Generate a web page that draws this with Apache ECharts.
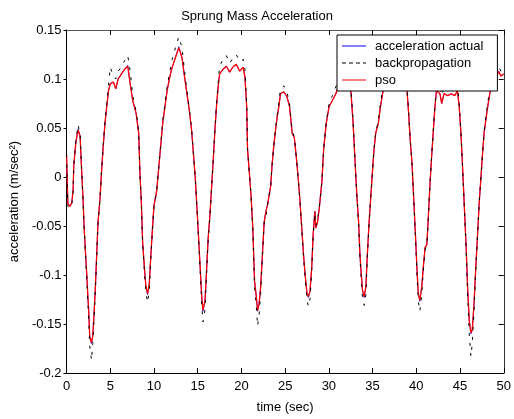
<!DOCTYPE html>
<html>
<head>
<meta charset="utf-8">
<script src="https://cdn.jsdelivr.net/npm/echarts@6/dist/echarts.min.js"></script>
<style>
  html, body { margin: 0; padding: 0; background: #fff; }
  #chart { width: 514px; height: 419px; }
</style>
</head>
<body>
<div id="chart"></div>
<script>
// sample times (sec)
var time = [0, 0.15, 0.4, 0.6, 0.75, 0.83, 1.06, 1.32, 1.55, 1.7, 1.9, 2.0, 2.18, 2.33, 2.44, 2.55, 2.65, 2.85, 3.0, 3.15,
  3.3, 3.45, 3.6, 3.83, 4.0, 4.2, 4.4, 4.6, 4.8, 5.0, 5.35, 5.63, 5.9, 6.27, 6.65, 7.0, 7.28, 7.57, 7.96, 8.25,
  8.4, 8.55, 8.7, 8.9, 9.08, 9.27, 9.46, 9.65, 9.83, 10.0, 10.3, 10.6, 10.8, 11.0, 11.26, 11.5, 11.8, 12.08, 12.46, 12.84,
  13.2, 13.5, 13.77, 14.04, 14.3, 14.5, 14.7, 14.9, 15.1, 15.28, 15.46, 15.6, 15.84, 16.03, 16.2, 16.4, 16.6, 16.8, 16.97, 17.15,
  17.34, 17.5, 17.9, 18.27, 18.65, 19.0, 19.4, 19.8, 20.2, 20.4, 20.6, 20.7, 20.9, 21.1, 21.3, 21.4, 21.5, 21.7, 21.85, 22.03,
  22.2, 22.4, 22.6, 22.8, 22.97, 23.16, 23.35, 23.5, 23.7, 23.9, 24.1, 24.28, 24.47, 24.66, 24.85, 25.2, 25.5, 25.8, 26.05, 26.27,
  26.5, 26.7, 26.9, 27.1, 27.28, 27.5, 27.66, 27.85, 28.04, 28.2, 28.4, 28.5, 28.7, 28.9, 29.2, 29.4, 29.7, 30.03, 30.4, 30.8,
  31.05, 31.5, 32.0, 32.5, 32.77, 33.0, 33.2, 33.4, 33.55, 33.7, 33.85, 34.04, 34.23, 34.4, 34.6, 34.8, 34.98, 35.16, 35.36, 35.66,
  35.9, 36.2, 36.8, 37.5, 38.3, 38.9, 39.1, 39.3, 39.5, 39.7, 39.9, 40.1, 40.23, 40.4, 40.62, 40.8, 41.0, 41.2, 41.37, 41.55,
  41.75, 41.93, 42.1, 42.3, 42.7, 42.9, 43.17, 43.6, 44.0, 44.4, 44.7, 44.9, 45.1, 45.3, 45.5, 45.7, 45.86, 46.05, 46.24, 46.4,
  46.6, 46.8, 47.0, 47.2, 47.4, 47.55, 47.75, 47.9, 48.1, 48.4, 48.65, 48.85, 49.15, 49.4, 49.66, 50];

// pso output (red)
var pso = [0.023, -0.027, -0.03, -0.026, -0.014, 0.012, 0.035, 0.048, 0.042, 0.012, -0.025, -0.049, -0.079, -0.102, -0.122, -0.139, -0.163, -0.169, -0.162, -0.139,
  -0.112, -0.079, -0.046, -0.022, 0.005, 0.032, 0.055, 0.072, 0.088, 0.095, 0.097, 0.09, 0.1, 0.105, 0.11, 0.113, 0.095, 0.078, 0.065, 0.045,
  0.002, -0.025, -0.066, -0.092, -0.112, -0.119, -0.109, -0.079, -0.052, -0.029, -0.015, 0.015, 0.035, 0.055, 0.072, 0.088, 0.102, 0.112, 0.122, 0.132,
  0.122, 0.102, 0.085, 0.068, 0.048, 0.025, 0.002, -0.029, -0.062, -0.092, -0.122, -0.136, -0.126, -0.092, -0.062, -0.039, -0.009, 0.021, 0.048, 0.072,
  0.092, 0.105, 0.11, 0.113, 0.107, 0.112, 0.115, 0.108, 0.112, 0.102, 0.072, 0.028, 0.005, -0.019, -0.052, -0.079, -0.106, -0.122, -0.136, -0.129,
  -0.112, -0.079, -0.046, -0.035, -0.029, -0.019, -0.009, 0.012, 0.032, 0.048, 0.062, 0.072, 0.085, 0.083, 0.087, 0.082, 0.072, 0.045, 0.04, 0.021,
  -0.002, -0.025, -0.052, -0.079, -0.099, -0.119, -0.122, -0.116, -0.092, -0.059, -0.035, -0.052, -0.046, -0.032, -0.005, 0.028, 0.055, 0.072, 0.078, 0.085,
  0.092, 0.105, 0.115, 0.09, 0.055, 0.015, -0.019, -0.046, -0.079, -0.099, -0.116, -0.122, -0.112, -0.079, -0.046, -0.019, 0.005, 0.028, 0.045, 0.055,
  0.072, 0.088, 0.105, 0.11, 0.108, 0.092, 0.068, 0.038, 0.015, -0.022, -0.059, -0.099, -0.119, -0.126, -0.112, -0.092, -0.072, -0.069, -0.042, -0.009,
  0.021, 0.045, 0.068, 0.088, 0.085, 0.075, 0.085, 0.083, 0.085, 0.083, 0.088, 0.072, 0.045, 0.008, -0.032, -0.072, -0.112, -0.146, -0.159, -0.156,
  -0.129, -0.092, -0.059, -0.025, 0.001, 0.021, 0.045, 0.055, 0.068, 0.085, 0.098, 0.105, 0.102, 0.108, 0.103, 0.105];

// backpropagation output (black dashed)
var backprop = [0.023, -0.03, -0.032, -0.028, -0.014, 0.012, 0.036, 0.053, 0.044, 0.012, -0.026, -0.05, -0.082, -0.106, -0.128, -0.148, -0.172, -0.187, -0.17, -0.145,
  -0.116, -0.082, -0.047, -0.022, 0.005, 0.033, 0.057, 0.075, 0.093, 0.112, 0.103, 0.1, 0.108, 0.112, 0.119, 0.124, 0.108, 0.083, 0.067, 0.046,
  0.002, -0.025, -0.068, -0.096, -0.118, -0.128, -0.116, -0.082, -0.053, -0.03, -0.015, 0.015, 0.036, 0.057, 0.075, 0.092, 0.107, 0.12, 0.132, 0.143,
  0.132, 0.108, 0.088, 0.07, 0.049, 0.025, 0.002, -0.03, -0.064, -0.096, -0.13, -0.148, -0.135, -0.096, -0.064, -0.04, -0.009, 0.021, 0.049, 0.075,
  0.097, 0.113, 0.12, 0.124, 0.116, 0.121, 0.125, 0.118, 0.12, 0.11, 0.075, 0.028, 0.005, -0.02, -0.054, -0.083, -0.112, -0.132, -0.152, -0.14,
  -0.118, -0.082, -0.047, -0.04, -0.03, -0.019, -0.009, 0.012, 0.032, 0.049, 0.064, 0.076, 0.09, 0.088, 0.093, 0.087, 0.075, 0.047, 0.041, 0.021,
  -0.002, -0.025, -0.053, -0.082, -0.103, -0.126, -0.132, -0.124, -0.095, -0.06, -0.037, -0.05, -0.044, -0.031, -0.005, 0.028, 0.056, 0.075, 0.083, 0.092,
  0.1, 0.112, 0.122, 0.095, 0.057, 0.015, -0.019, -0.047, -0.082, -0.104, -0.124, -0.131, -0.12, -0.082, -0.047, -0.019, 0.005, 0.028, 0.046, 0.057,
  0.075, 0.093, 0.113, 0.12, 0.116, 0.098, 0.07, 0.038, 0.015, -0.022, -0.061, -0.105, -0.127, -0.137, -0.12, -0.096, -0.074, -0.07, -0.042, -0.009,
  0.021, 0.046, 0.07, 0.092, 0.092, 0.083, 0.091, 0.09, 0.092, 0.09, 0.094, 0.076, 0.046, 0.008, -0.033, -0.075, -0.118, -0.16, -0.183, -0.17,
  -0.136, -0.095, -0.06, -0.025, 0.001, 0.021, 0.046, 0.057, 0.071, 0.09, 0.104, 0.112, 0.106, 0.113, 0.108, 0.11];

// measured acceleration (blue, mostly under the red line)
var actual = [0.023, -0.027, -0.03, -0.026, -0.014, 0.012, 0.035, 0.049, 0.042, 0.012, -0.025, -0.049, -0.079, -0.102, -0.122, -0.139, -0.163, -0.17, -0.162, -0.139,
  -0.112, -0.079, -0.046, -0.022, 0.005, 0.032, 0.055, 0.072, 0.088, 0.095, 0.097, 0.09, 0.1, 0.105, 0.11, 0.114, 0.095, 0.078, 0.065, 0.045,
  0.002, -0.025, -0.066, -0.092, -0.112, -0.12, -0.109, -0.079, -0.052, -0.029, -0.015, 0.015, 0.035, 0.055, 0.072, 0.088, 0.102, 0.112, 0.122, 0.133,
  0.122, 0.102, 0.085, 0.068, 0.048, 0.025, 0.002, -0.029, -0.062, -0.092, -0.122, -0.137, -0.126, -0.092, -0.062, -0.039, -0.009, 0.021, 0.048, 0.072,
  0.092, 0.105, 0.11, 0.113, 0.107, 0.112, 0.115, 0.108, 0.112, 0.102, 0.072, 0.028, 0.005, -0.019, -0.052, -0.079, -0.106, -0.122, -0.137, -0.129,
  -0.112, -0.079, -0.046, -0.035, -0.029, -0.019, -0.009, 0.012, 0.032, 0.048, 0.062, 0.072, 0.085, 0.083, 0.087, 0.082, 0.072, 0.045, 0.04, 0.021,
  -0.002, -0.025, -0.052, -0.079, -0.099, -0.119, -0.123, -0.116, -0.092, -0.059, -0.035, -0.052, -0.046, -0.032, -0.005, 0.028, 0.055, 0.072, 0.078, 0.085,
  0.092, 0.105, 0.115, 0.09, 0.055, 0.015, -0.019, -0.046, -0.079, -0.099, -0.116, -0.123, -0.112, -0.079, -0.046, -0.019, 0.005, 0.028, 0.045, 0.055,
  0.072, 0.088, 0.105, 0.11, 0.108, 0.092, 0.068, 0.038, 0.015, -0.022, -0.059, -0.099, -0.119, -0.127, -0.112, -0.092, -0.072, -0.069, -0.042, -0.009,
  0.021, 0.045, 0.068, 0.088, 0.085, 0.075, 0.085, 0.083, 0.085, 0.083, 0.088, 0.072, 0.045, 0.008, -0.032, -0.072, -0.112, -0.146, -0.16, -0.156,
  -0.129, -0.092, -0.059, -0.025, 0.001, 0.021, 0.045, 0.055, 0.068, 0.085, 0.098, 0.105, 0.102, 0.108, 0.103, 0.105];

function pairs(ys) {
  return time.map(function (t, i) { return [t, ys[i]]; });
}

// legend samples: thin 1px strokes, with corner specks so the icon box stays 24x14
var solidIcon = 'path://M0,0h0.01v0.01h-0.01z M0,6.5h24v1h-24z M23.99,13.99h0.01v0.01h-0.01z';
var dashIcon = 'path://M0,0h0.01v0.01h-0.01z M0,6.5h4v1h-4z M7,6.5h4v1h-4z M14,6.5h4v1h-4z M21,6.5h3v1h-3z M23.99,13.99h0.01v0.01h-0.01z';

var font = 'Liberation Sans, Arial, sans-serif';
function axisStyle(inside, color) {
  return {
    axisLine: { show: true, onZero: false, lineStyle: { color: color, width: 1 } },
    axisTick: { show: true, inside: inside, length: inside ? 5 : 3, lineStyle: { color: '#000' } },
    splitLine: { show: false }
  };
}

var chart = echarts.init(document.getElementById('chart'), null, { renderer: 'canvas' });
chart.setOption({
  animation: false,
  backgroundColor: '#fff',
  textStyle: { fontFamily: font },
  title: {
    text: 'Sprung Mass Acceleration',
    left: 'center',
    top: 5,
    textStyle: { fontSize: 13, fontWeight: 'normal', color: '#000', fontFamily: font }
  },
  grid: { left: 66, right: 4, top: 30, bottom: 40 },
  legend: {
    data: [
      { name: 'acceleration actual', icon: solidIcon, itemStyle: { color: '#0000ff' } },
      { name: 'backpropagation', icon: dashIcon, itemStyle: { color: '#000' } },
      { name: 'pso', icon: solidIcon, itemStyle: { color: '#ff0000' } }
    ],
    orient: 'vertical',
    left: 337,
    top: 35,
    backgroundColor: '#fff',
    borderColor: '#000',
    borderWidth: 1,
    borderRadius: 0,
    padding: [4, 14, 4, 5],
    itemGap: 3,
    itemWidth: 24,
    itemHeight: 14,
    textStyle: { fontSize: 13, color: '#000', fontFamily: font, padding: [0, 0, 0, 4] }
  },
  xAxis: [
    Object.assign({
      type: 'value', min: 0, max: 50, interval: 5,
      name: 'time (sec)', nameLocation: 'middle', nameGap: 28,
      nameTextStyle: { fontSize: 13, color: '#000' },
      axisLabel: { fontSize: 13, color: '#000', margin: 7 }
    }, axisStyle(true, '#000')),
    Object.assign({
      type: 'value', min: 0, max: 50, interval: 5, position: 'top',
      axisLabel: { show: false }
    }, axisStyle(true, '#555'))
  ],
  yAxis: [
    Object.assign({
      type: 'value', min: -0.2, max: 0.15, interval: 0.05,
      name: 'acceleration (m/sec²)', nameLocation: 'middle', nameGap: 41,
      nameTextStyle: { fontSize: 13, color: '#000' },
      axisLabel: {
        fontSize: 13, color: '#000', margin: 5,
        formatter: function (v) { return String(Math.round(v * 100) / 100); }
      }
    }, axisStyle(false, '#000')),
    Object.assign({
      type: 'value', min: -0.2, max: 0.15, interval: 0.05, position: 'right',
      axisLabel: { show: false }
    }, axisStyle(true, '#333'))
  ],
  series: [
    {
      name: 'acceleration actual', type: 'line', data: pairs(actual),
      symbol: 'none', lineStyle: { color: '#0000ff', width: 0.8 }, itemStyle: { color: '#0000ff' }
    },
    {
      name: 'pso', type: 'line', data: pairs(pso),
      symbol: 'none', lineStyle: { color: '#ff0000', width: 1.3 }, itemStyle: { color: '#ff0000' }
    },
    {
      name: 'backpropagation', type: 'line', data: pairs(backprop),
      symbol: 'none', lineStyle: { color: '#000', width: 1, type: [3, 7] }, itemStyle: { color: '#000' }
    }
  ]
});
</script>
</body>
</html>
